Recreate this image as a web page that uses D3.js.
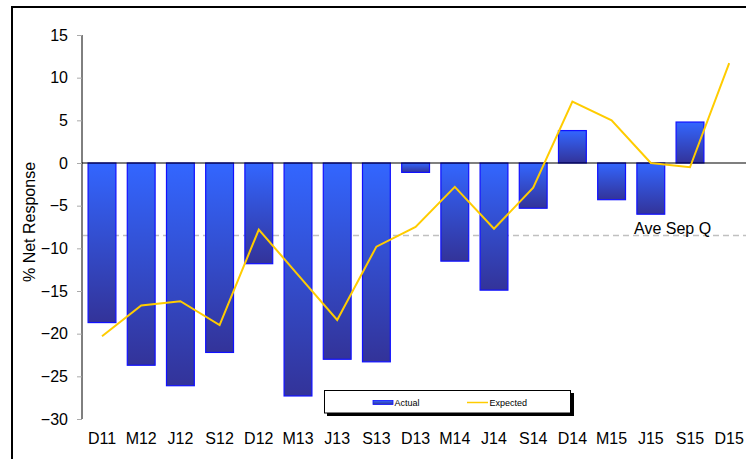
<!DOCTYPE html>
<html><head><meta charset="utf-8">
<script src="https://cdn.jsdelivr.net/npm/d3@7"></script>
<style>body{margin:0;background:#fff}svg{display:block;font-family:"Liberation Sans",Arial,sans-serif}</style>
</head><body><div id="chart"></div>
<script>
const categories = ["D11","M12","J12","S12","D12","M13","J13","S13","D13","M14","J14","S14","D14","M15","J15","S15","D15"];
const actual = [-18.7,-23.7,-26.1,-22.2,-11.8,-27.3,-23.0,-23.3,-1.1,-11.5,-14.9,-5.3,3.8,-4.3,-6.0,4.8,null];
const expected = [-20.3,-16.7,-16.2,-19.0,-7.8,-13.1,-18.4,-9.8,-7.5,-2.8,-7.7,-2.9,7.2,5.0,0.0,-0.5,11.7];
const aveSepQ = -8.5;
const yTicks = [15,10,5,0,-5,-10,-15,-20,-25,-30];

const W = 746, H = 459;
const FONT = "Liberation Sans, Arial, sans-serif";
const svg = d3.select("#chart").append("svg").attr("width", W).attr("height", H);
const defs = svg.append("defs");
const grad = defs.append("linearGradient").attr("id","barGrad").attr("x1",0).attr("y1",0).attr("x2",0).attr("y2",1);
grad.append("stop").attr("offset","0%").attr("stop-color","#3366ff");
grad.append("stop").attr("offset","100%").attr("stop-color","#333399");

// frame
svg.append("line").attr("x1",12).attr("x2",W).attr("y1",7).attr("y2",7).attr("stroke","#000").attr("stroke-width",2);
svg.append("line").attr("x1",12).attr("x2",12).attr("y1",6).attr("y2",H).attr("stroke","#000").attr("stroke-width",2);

const x = d3.scaleBand().domain(categories).range([82.4, 82.4 + 17*39.2]).paddingInner(0.29).paddingOuter(0.145);
const y = d3.scaleLinear().domain([-30,15]).range([419,35]);

// y axis
const yAxis = svg.append("g").attr("transform","translate(82,0)")
  .call(d3.axisLeft(y).tickValues(yTicks).tickSize(5).tickPadding(9).tickFormat(d3.format("d")));
yAxis.select(".domain").attr("stroke","#000").attr("d", `M0,${y(15)}V${y(-30)}`);
yAxis.selectAll(".tick line").attr("stroke","#aaa");
yAxis.selectAll("text").attr("font-size",16).attr("fill","#000").attr("font-family",FONT);

svg.append("text").attr("transform",`translate(35,${(y(15)+y(-30))/2-5}) rotate(-90)`)
  .attr("text-anchor","middle").attr("font-size",16).text("% Net Response");

// average dashed line
svg.append("line").attr("x1",83).attr("x2",W).attr("y1",y(aveSepQ)).attr("y2",y(aveSepQ))
  .attr("stroke","#c0c0c0").attr("stroke-width",1.5).attr("stroke-dasharray","6,4");

// bars
const bw = x.bandwidth();
svg.append("g").selectAll("rect").data(categories.map((c,i)=>({c,v:actual[i]})).filter(d=>d.v!==null))
  .join("rect")
  .attr("x", d=>x(d.c)).attr("width", bw)
  .attr("y", d=>y(Math.max(0,d.v))).attr("height", d=>Math.abs(y(d.v)-y(0)))
  .attr("fill","url(#barGrad)").attr("stroke","#1010ff").attr("stroke-width",1.2);

// zero line
svg.append("line").attr("x1",82).attr("x2",W).attr("y1",y(0)).attr("y2",y(0)).attr("stroke","#000").attr("stroke-width",1.2);

svg.append("text").attr("x",634).attr("y",y(aveSepQ)-2).attr("font-size",16).text("Ave Sep Q");

// expected line
const line = d3.line().x((d,i)=>x(categories[i])+bw/2).y(d=>y(d));
svg.append("path").datum(expected).attr("d",line).attr("fill","none").attr("stroke","#ffcc00").attr("stroke-width",2);

// x labels
svg.append("g").selectAll("text").data(categories).join("text")
  .attr("x", d=>x(d)+bw/2).attr("y",444).attr("text-anchor","middle").attr("font-size",16).text(d=>d);

// legend
const lg = svg.append("g");
lg.append("rect").attr("x",327).attr("y",393).attr("width",247).attr("height",23).attr("fill","#000");
lg.append("rect").attr("x",324.5).attr("y",390.5).attr("width",246).attr("height",22.5).attr("fill","#fff").attr("stroke","#000").attr("stroke-width",1);
lg.append("rect").attr("x",373).attr("y",400.5).attr("width",20).attr("height",4).attr("fill","url(#barGrad)").attr("stroke","#1010ff").attr("stroke-width",0.8);
lg.append("text").attr("x",394.5).attr("y",405.5).attr("font-size",9).text("Actual");
lg.append("line").attr("x1",467).attr("x2",488).attr("y1",402.5).attr("y2",402.5).attr("stroke","#ffcc00").attr("stroke-width",1.5);
lg.append("text").attr("x",489.5).attr("y",405.5).attr("font-size",9).text("Expected");
</script></body></html>
